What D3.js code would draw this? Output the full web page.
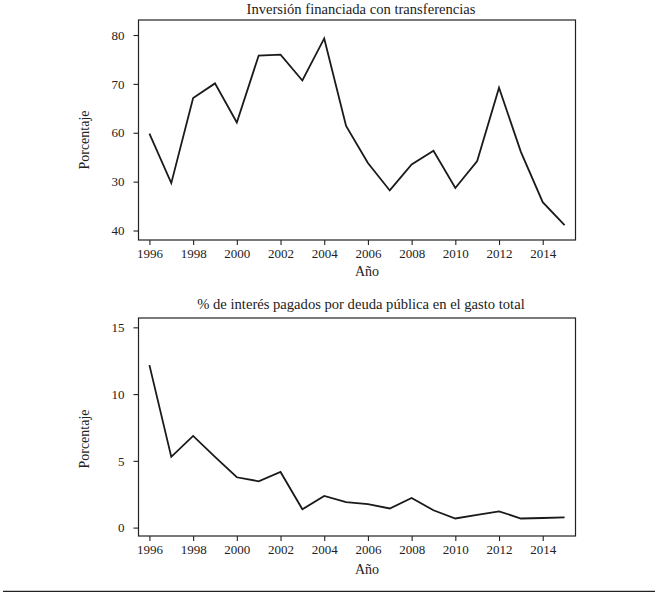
<!DOCTYPE html>
<html><head><meta charset="utf-8">
<script src="https://cdn.jsdelivr.net/npm/d3@7"></script>
<style>body{margin:0;background:#fff}svg{display:block}text{font-family:"Liberation Serif","DejaVu Serif",serif;fill:#222}</style>
</head><body><svg id="c" width="655" height="594"></svg>
<script>
const years = [1996,1997,1998,1999,2000,2001,2002,2003,2004,2005,2006,2007,2008,2009,2010,2011,2012,2013,2014,2015];
const inversion = [59.8,49.7,67.1,70.1,62.1,75.8,76.0,70.7,79.3,61.4,53.8,48.2,53.5,56.3,48.7,54.2,69.2,56.1,45.8,41.1];
const intereses = [12.17,5.3,6.87,5.3,3.77,3.47,4.17,1.37,2.37,1.9,1.75,1.43,2.22,1.3,0.68,0.95,1.22,0.68,0.72,0.77];
const xTicks = [1996,1998,2000,2002,2004,2006,2008,2010,2012,2014];
const topYTicks = [80,70,60,50,40];
const topYLabels = ["80","70","60","30","40"];
const botYTicks = [15,10,5,0];
const botYLabels = ["15","10","5","0"];
const titles = ["Inversión financiada con transferencias","% de interés pagados por deuda pública en el gasto total"];

const svg = d3.select("#c");
const x = d3.scaleLinear().domain([1995.5,2015.5]).range([138.5,575.5]);

function panel(top, bottom, yDomain, yTicks, yLabels, values, title, titleY, ylabY, xlabY){
  const y = d3.scaleLinear().domain(yDomain).range([bottom, top]);
  const g = svg.append("g");
  g.append("rect").attr("x",138.5).attr("y",top).attr("width",437).attr("height",bottom-top)
    .attr("fill","none").attr("stroke","#222").attr("stroke-width",1.2);
  const ya = g.append("g").attr("transform","translate(138.5,0)")
    .call(d3.axisLeft(y).tickValues(yTicks).tickSize(5).tickPadding(9).tickFormat((d,i)=>yLabels[i]));
  const xa = g.append("g").attr("transform",`translate(0,${bottom})`)
    .call(d3.axisBottom(x).tickValues(xTicks).tickSize(5).tickPadding(4).tickFormat(d3.format("d")));
  [ya,xa].forEach(a=>{a.select(".domain").remove();a.selectAll("line").attr("stroke","#222").attr("stroke-width",1.1);
    a.selectAll("text").attr("font-size",13).attr("font-family","Liberation Serif").attr("fill","#222");});
  g.append("path").datum(values).attr("fill","none").attr("stroke","#1a1a1a").attr("stroke-width",1.8)
    .attr("stroke-linejoin","miter")
    .attr("d", d3.line().x((d,i)=>x(years[i])).y(d=>y(d)));
  g.append("text").attr("x",361).attr("y",titleY).attr("text-anchor","middle").attr("font-size",14.6).text(title);
  g.append("text").attr("transform",`translate(89,${ylabY}) rotate(-90)`).attr("text-anchor","middle").attr("font-size",14).text("Porcentaje");
  g.append("text").attr("x",367).attr("y",xlabY).attr("text-anchor","middle").attr("font-size",14).text("Año");
}
panel(20, 240, [38.06,83.07], topYTicks, topYLabels, inversion, titles[0], 13.5, 140, 276);
panel(318, 536, [-0.63,15.7], botYTicks, botYLabels, intereses, titles[1], 308.5, 439, 573.5);
svg.append("line").attr("x1",3).attr("x2",655).attr("y1",591.3).attr("y2",591.3).attr("stroke","#222").attr("stroke-width",1.2);
</script></body></html>
